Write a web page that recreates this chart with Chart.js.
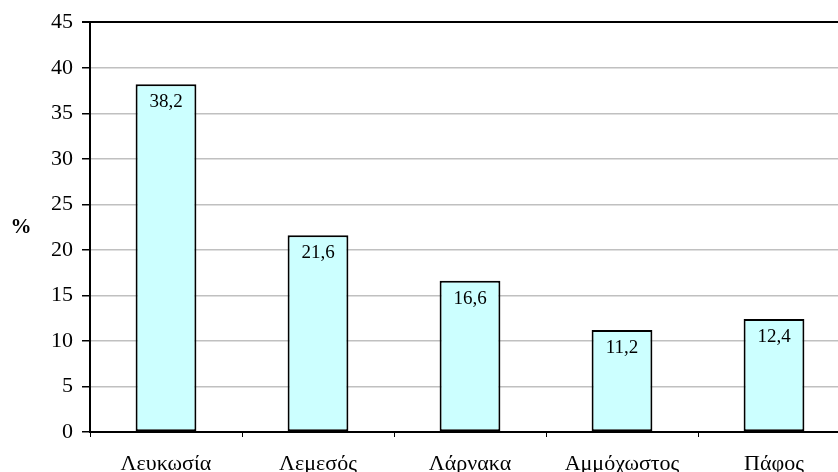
<!DOCTYPE html>
<html>
<head>
<meta charset="utf-8">
<script src="https://cdn.jsdelivr.net/npm/chart.js@4/dist/chart.umd.min.js"></script>
<style>
html,body{margin:0;padding:0;background:#fff;overflow:hidden;width:838px;height:472px;}
#wrap{position:absolute;left:0;top:0;width:862px;height:472px;}
</style>
</head>
<body>
<div id="wrap"><canvas id="c" width="862" height="472"></canvas></div>
<script>
const categories = ['Λευκωσία', 'Λεμεσός', 'Λάρνακα', 'Αμμόχωστος', 'Πάφος'];
const values = [38.2, 21.6, 16.6, 11.2, 12.4];
const valueLabels = ['38,2', '21,6', '16,6', '11,2', '12,4'];
const yTicks = [0, 5, 10, 15, 20, 25, 30, 35, 40, 45];
const yTitle = '%';

const serif = "'Liberation Serif', 'Times New Roman', serif";

const labelPlugin = {
  id: 'labels',
  afterDatasetsDraw(chart) {
    const ctx = chart.ctx;
    const meta = chart.getDatasetMeta(0);
    ctx.save();
    ctx.fillStyle = '#000';
    ctx.font = '19px ' + serif;
    ctx.textAlign = 'center';
    ctx.textBaseline = 'middle';
    meta.data.forEach((bar, i) => {
      ctx.fillText(valueLabels[i], bar.x, bar.y + 18);
    });
    ctx.font = 'bold 21px ' + serif;
    const ya = chart.scales.y;
    ctx.fillText(yTitle, 21, (ya.top + ya.bottom) / 2);
    ctx.restore();
  }
};

new Chart(document.getElementById('c'), {
  type: 'bar',
  data: {
    labels: categories,
    datasets: [{
      data: values,
      backgroundColor: '#ccffff',
      borderColor: '#000',
      borderWidth: 2,
      borderSkipped: false,
      categoryPercentage: 0.4,
      barPercentage: 1.0
    }]
  },
  options: {
    responsive: false,
    animation: false,
    devicePixelRatio: 1,
    layout: { padding: { left: 0, right: 12, top: 22, bottom: 0 } },
    plugins: { legend: { display: false }, tooltip: { enabled: false } },
    scales: {
      x: {
        offset: true,
        grid: { offset: true, drawOnChartArea: false, tickLength: 5, color: '#000', tickColor: '#000', lineWidth: 1 },
        border: { color: '#000', width: 2 },
        ticks: { color: '#000', font: { family: serif, size: 22 }, padding: 14, maxRotation: 0 },
        afterFit(s) { s.height = 40; }
      },
      y: {
        min: 0, max: 45,
        afterBuildTicks(s) { s.ticks = yTicks.map(v => ({ value: v })); },
        grid: {
          color: (c) => (c.tick && c.tick.value === 45) ? '#000' : '#c0c0c0',
          lineWidth: (c) => (c.tick && c.tick.value === 45) ? 2 : 1.5,
          tickColor: '#000', tickLength: 8
        },
        border: { color: '#000', width: 2 },
        ticks: { color: '#000', font: { family: serif, size: 22 }, padding: 9 },
        afterFit(s) { s.width = 90; }
      }
    }
  },
  plugins: [labelPlugin]
});
</script>
</body>
</html>
